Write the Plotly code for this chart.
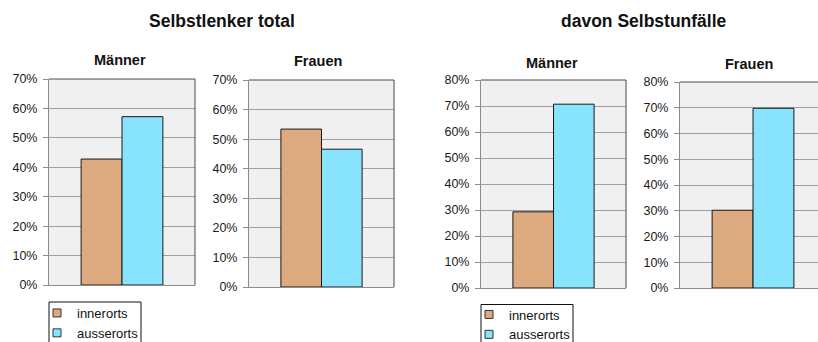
import plotly.graph_objects as go

W, H = 818, 342

# Kategorien und Anteile (in %)
categories = ["innerorts", "ausserorts"]
selbstlenker_maenner = [42.8, 57.2]
selbstlenker_frauen = [53.4, 46.6]
selbstunfaelle_maenner = [29.3, 70.7]
selbstunfaelle_frauen = [30.2, 69.8]

group_titles = ["Selbstlenker total", "davon Selbstunfälle"]
panel_titles = ["Männer", "Frauen", "Männer", "Frauen"]

colors = ["#DDAA80", "#88E3FD"]
FONT = "Liberation Sans, Arial, sans-serif"

# plot boxes in pixels: left, right, top, bottom, y max, x range end
panels = [
    dict(vals=selbstlenker_maenner, box=(49, 195, 79, 285), ymax=0.7, xend=0.5, right=True, legend="legend"),
    dict(vals=selbstlenker_frauen, box=(249, 394, 80, 287), ymax=0.7, xend=0.5, right=True, legend=None),
    dict(vals=selbstunfaelle_maenner, box=(481, 626, 80, 288), ymax=0.8, xend=0.5, right=True, legend="legend2"),
    dict(vals=selbstunfaelle_frauen, box=(680, 818, 82, 288), ymax=0.8, xend=0.445, right=False, legend=None),
]


def px_x(v):
    return v / W


def px_y(v):
    return 1 - v / H


fig = go.Figure()
layout = {}
shapes = []

for i, p in enumerate(panels):
    n = "" if i == 0 else str(i + 1)
    xa, ya = "x" + n, "y" + n
    l, r, t, b = p["box"]
    for cat, val, col in zip(categories, p["vals"], colors):
        fig.add_trace(go.Bar(
            x=["Anteil"], y=[val / 100], name=cat, xaxis=xa, yaxis=ya,
            marker=dict(color=col, line=dict(color="#1a1a1a", width=1)),
            showlegend=False,
        ))
    if p["legend"]:
        for cat, col in zip(categories, colors):
            fig.add_trace(go.Scatter(
                x=[None], y=[None], mode="markers", name=cat, xaxis=xa, yaxis=ya,
                marker=dict(symbol="square", size=8, color=col, line=dict(color="#333", width=1)),
                legend=p["legend"], showlegend=True,
            ))
    layout["xaxis" + n] = dict(
        domain=[px_x(l), px_x(r)], anchor=ya, type="category",
        range=[-0.5, p["xend"]], showticklabels=False, ticks="",
        showgrid=False, showline=True, linecolor="#8c8c8c", linewidth=1,
        zeroline=False, fixedrange=True,
    )
    layout["yaxis" + n] = dict(
        domain=[px_y(b), px_y(t)], anchor=xa, range=[0, p["ymax"]], dtick=0.1,
        tickformat=".0%", showgrid=True, gridcolor="#a0a0a0", gridwidth=1,
        showline=True, linecolor="#8c8c8c", linewidth=1, zeroline=False,
        ticks="outside", ticklen=5, tickcolor="#8c8c8c", ticklabelstandoff=3,
        tickfont=dict(size=12.5, color="#1a1a1a", family=FONT), fixedrange=True,
    )
    # dark frame on top and right side of the plot area
    shapes.append(dict(type="line", xref=xa + " domain", yref=ya + " domain",
                       x0=0, x1=1, y0=1, y1=1, line=dict(color="#4a4a4a", width=1)))
    if p["right"]:
        shapes.append(dict(type="line", xref=xa + " domain", yref=ya + " domain",
                           x0=1, x1=1, y0=0, y1=1, line=dict(color="#4a4a4a", width=1)))

# legend frames (left, right, top) in pixels
legend_frames = [(49, 141, 302), (481, 573, 304.5)]
for l, r, t in legend_frames:
    shapes.append(dict(type="rect", xref="paper", yref="paper",
                       x0=px_x(l), x1=px_x(r), y0=px_y(t), y1=px_y(H + 10),
                       line=dict(color="#111", width=1), fillcolor="white", layer="below"))

annotations = []
for title, cx, cy in zip(group_titles, [221.5, 643.5], [20.5, 21]):
    annotations.append(dict(text="<b>" + title + "</b>", x=px_x(cx), y=px_y(cy),
                            xref="paper", yref="paper", showarrow=False,
                            xanchor="center", yanchor="middle",
                            font=dict(size=17.5, family=FONT, color="#111")))
for title, cx, cy in zip(panel_titles, [120.3, 318, 551.7, 748.7], [60.4, 61.3, 62.7, 64]):
    annotations.append(dict(text="<b>" + title + "</b>", x=px_x(cx), y=px_y(cy),
                            xref="paper", yref="paper", showarrow=False,
                            xanchor="center", yanchor="middle",
                            font=dict(size=14.5, family=FONT, color="#111")))

legend_style = dict(xref="paper", yref="paper", xanchor="left", yanchor="top",
                    bgcolor="rgba(0,0,0,0)", borderwidth=0,
                    font=dict(size=13, family=FONT, color="#111"),
                    itemwidth=30, indentation=-12, tracegroupgap=0, traceorder="normal")

fig.update_layout(
    width=W, height=H,
    margin=dict(l=0, r=0, t=0, b=0, autoexpand=False),
    paper_bgcolor="white", plot_bgcolor="#f0f0f0",
    barmode="group", bargap=0.44, bargroupgap=0,
    shapes=shapes, annotations=annotations,
    legend=dict(x=px_x(49), y=px_y(298), **legend_style),
    legend2=dict(x=px_x(481), y=px_y(299.5), **legend_style),
    **layout,
)

fig.write_html("out.html")
